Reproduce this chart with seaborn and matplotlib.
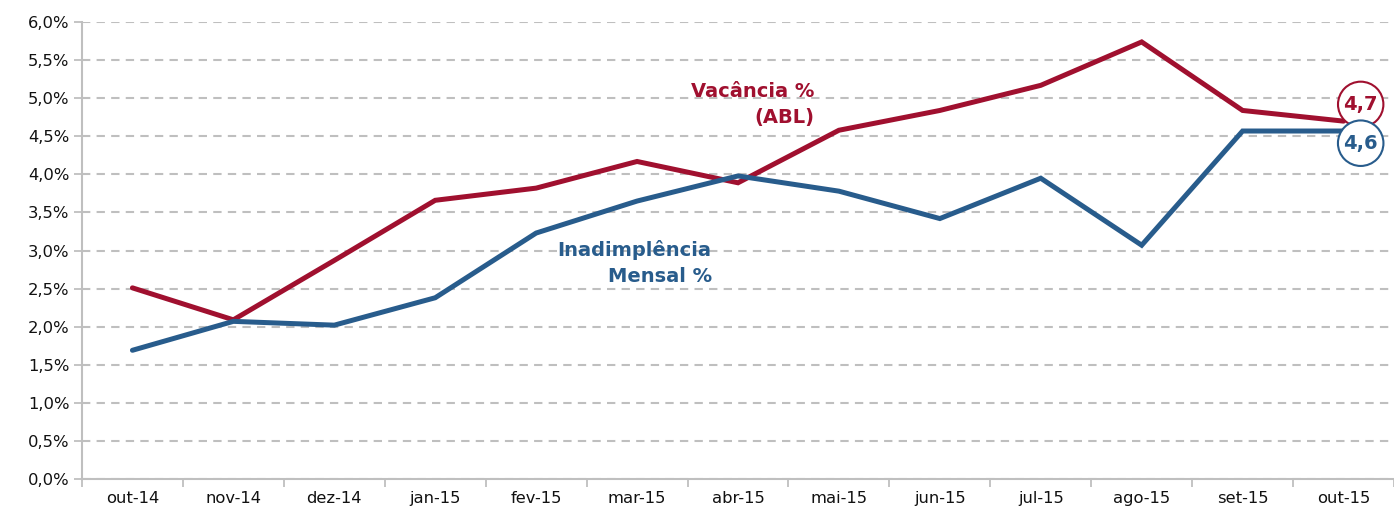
import matplotlib
matplotlib.use("Agg")
import matplotlib.pyplot as plt
import seaborn as sns
import pandas as pd
import numpy as np
from matplotlib.ticker import FuncFormatter, FixedLocator

months = ["out-14", "nov-14", "dez-14", "jan-15", "fev-15", "mar-15", "abr-15",
          "mai-15", "jun-15", "jul-15", "ago-15", "set-15", "out-15"]
vacancia = [2.51, 2.09, 2.87, 3.66, 3.82, 4.17, 3.89, 4.58, 4.84, 5.17, 5.74, 4.84, 4.70]
inadimplencia = [1.69, 2.07, 2.02, 2.38, 3.23, 3.65, 3.98, 3.78, 3.42, 3.95, 3.07, 4.57, 4.57]
y_ticks = [0.0, 0.5, 1.0, 1.5, 2.0, 2.5, 3.0, 3.5, 4.0, 4.5, 5.0, 5.5, 6.0]
end_labels = ["4,7", "4,6"]

RED = "#A0102F"
BLUE = "#285C8C"
GRID = "#BFBFBF"

sns.set_style("white")
plt.rcParams['font.family'] = ['DejaVu Sans']

df = pd.DataFrame({
    "mes": months * 2,
    "valor": vacancia + inadimplencia,
    "serie": ["Vacância"] * len(months) + ["Inadimplência"] * len(months),
})

fig = plt.figure(figsize=(13.94, 5.15), dpi=100)
ax = fig.add_axes([0.0588, 0.070, 0.9412, 0.887])

sns.lineplot(data=df, x="mes", y="valor", hue="serie", sort=False,
             palette={"Vacância": RED, "Inadimplência": BLUE},
             linewidth=3.6, legend=False, ax=ax)
for ln in ax.get_lines():
    ln.set_solid_joinstyle("miter")

ax.set_xlim(-0.5, len(months) - 0.5)
ax.set_ylim(0, 6.0)
ax.yaxis.set_major_locator(FixedLocator(y_ticks))
ax.yaxis.set_major_formatter(FuncFormatter(lambda v, p: f"{v:.1f}%".replace(".", ",")))
ax.set_xlabel("")
ax.set_ylabel("")

ax.grid(axis="y", color=GRID, linestyle=(0, (4, 3)), linewidth=1.5)
ax.grid(axis="x", visible=False)
ax.set_axisbelow(True)

for s in ["top", "right"]:
    ax.spines[s].set_visible(False)
for s in ["left", "bottom"]:
    ax.spines[s].set_color(GRID)
    ax.spines[s].set_linewidth(1.5)

ax.xaxis.set_minor_locator(FixedLocator(np.arange(-0.5, len(months), 1.0)))
ax.tick_params(axis="x", which="major", bottom=True, length=0, labelsize=11.8,
               labelcolor="#111111", pad=9)
ax.tick_params(axis="x", which="minor", bottom=True, length=6, width=1.3, color=GRID,
               direction="out")
ax.tick_params(axis="y", which="major", left=True, length=6, width=1.3, color=GRID,
               direction="out", labelsize=11.8, labelcolor="#111111", pad=3)

ax.text(6.76, 4.92, "Vacância %\n(ABL)", color=RED, fontsize=14, fontweight="bold",
        ha="right", va="center", multialignment="right", linespacing=1.45)
ax.text(5.74, 2.84, "Inadimplência\nMensal %", color=BLUE, fontsize=14, fontweight="bold",
        ha="right", va="center", multialignment="right", linespacing=1.45)

ax.text(12.17, 4.92, end_labels[0], color=RED, fontsize=14, fontweight="bold",
        ha="center", va="center",
        bbox=dict(boxstyle="circle,pad=0.28", fc="white", ec=RED, lw=1.5))
ax.text(12.17, 4.41, end_labels[1], color=BLUE, fontsize=14, fontweight="bold",
        ha="center", va="center",
        bbox=dict(boxstyle="circle,pad=0.28", fc="white", ec=BLUE, lw=1.5))

fig.savefig("out.png", dpi=100)
